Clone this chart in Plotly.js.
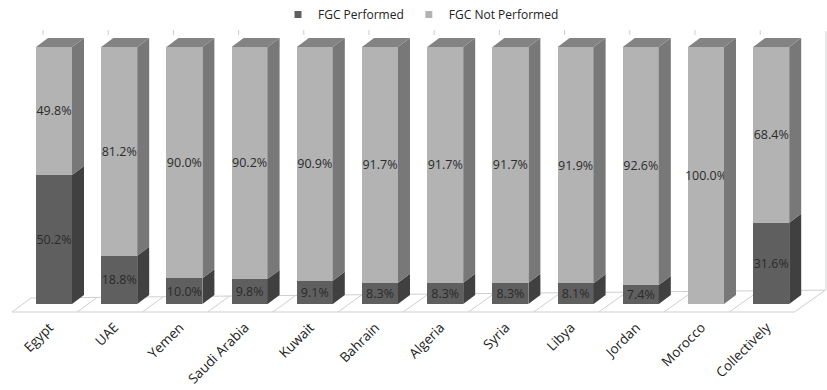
<!DOCTYPE html>
<html>
<head>
<meta charset="utf-8">
<script src="https://cdn.plot.ly/plotly-3.0.1.min.js"></script>
<style>
  html, body { margin: 0; padding: 0; background: #ffffff; }
  #chart { width: 827px; height: 390px; }
</style>
</head>
<body>
<div id="chart"></div>
<script>
// Share of women reporting female genital cutting, by country
const countries = ['Egypt', 'UAE', 'Yemen', 'Saudi Arabia', 'Kuwait', 'Bahrain',
                   'Algeria', 'Syria', 'Libya', 'Jordan', 'Morocco', 'Collectively'];
const performed    = [50.2, 18.8, 10.0, 9.8, 9.1, 8.3, 8.3, 8.3, 8.1, 7.4, 0.0, 31.6];
const notPerformed = [49.8, 81.2, 90.0, 90.2, 90.9, 91.7, 91.7, 91.7, 91.9, 92.6, 100.0, 68.4];
const seriesNames  = ['FGC Performed', 'FGC Not Performed'];

// ---- look ----
const FONT = 'Open Sans, Calibri, Liberation Sans, sans-serif';
const colFront = ['#5f5f5f', '#b3b3b3'];
const colSide  = ['#404040', '#787878'];
const colTop   = '#838383';
const floorLine = '#cfcfcf';

// ---- geometry of the pseudo-3D view (pixels -> axis units) ----
const W = 827, H = 390;
const M = { l: 0, r: 0, t: 25, b: 74 };
const PX_X = 65.2;          // pixels per category
const PX_Y = 2.58;          // pixels per percentage point
const X0_PX = 54;           // pixel of first category centre
const Y0_PX = 304;          // pixel of 0 %
const xRange = [-X0_PX / PX_X, (W - X0_PX) / PX_X];
const plotBottomPx = H - M.b, plotTopPx = M.t;
const yRange = [(Y0_PX - plotBottomPx) / PX_Y, (Y0_PX - plotTopPx) / PX_Y];
const px2x = p => (p - X0_PX) / PX_X;
const px2y = p => (Y0_PX - p) / PX_Y;

const BAR_W = 36 / PX_X;    // front face width
const DX = 12 / PX_X;       // depth offset, x
const DY = 9 / PX_Y;        // depth offset, y

const idx = countries.map((_, i) => i);
const fmt = v => (v > 0 ? v.toFixed(1) + '%' : '');

const barCommon = {
  type: 'bar',
  x: idx,
  width: BAR_W,
  showlegend: false,
  textposition: 'inside',
  insidetextanchor: 'middle',
  textangle: 0,
  constraintext: 'none',
  textfont: { family: FONT, size: 12.5, color: '#2b2b2b' },
  hoverinfo: 'skip'
};

const traces = [
  Object.assign({}, barCommon, {
    y: performed, name: seriesNames[0], text: performed.map(fmt),
    marker: { color: colFront[0], line: { width: 0 } }
  }),
  Object.assign({}, barCommon, {
    y: notPerformed, name: seriesNames[1], text: notPerformed.map(fmt),
    marker: { color: colFront[1], line: { width: 0 } }
  }),
  // legend swatches
  { type: 'scatter', mode: 'markers', x: [null], y: [null], name: seriesNames[0],
    marker: { symbol: 'square', size: 7, color: colFront[0] }, hoverinfo: 'skip' },
  { type: 'scatter', mode: 'markers', x: [null], y: [null], name: seriesNames[1],
    marker: { symbol: 'square', size: 7, color: colFront[1] }, hoverinfo: 'skip' }
];

const shapes = [];
const poly = pts => 'M' + pts.map(p => p[0] + ',' + p[1]).join('L') + 'Z';

// floor
const nCat = countries.length;
const floorFrontY = px2y(312);
const backLeft = { dx: 19, y: 298 }, backRight = { dx: 31, y: 290 };
const floorX = k => k - (X0_PX - 12) / PX_X;   // front boundary of slot k
const backAt = k => {
  const t = k / nCat;
  return {
    x: floorX(k) + (backLeft.dx + (backRight.dx - backLeft.dx) * t) / PX_X,
    y: px2y(backLeft.y + (backRight.y - backLeft.y) * t)
  };
};
const bl = backAt(0), br = backAt(nCat);
shapes.push({
  type: 'path', xref: 'x', yref: 'y', layer: 'below',
  path: poly([[floorX(0), floorFrontY], [floorX(nCat), floorFrontY], [br.x, br.y], [bl.x, bl.y]]),
  fillcolor: '#ffffff', line: { color: floorLine, width: 1 }
});
for (let k = 1; k < nCat; k++) {
  const b = backAt(k);
  shapes.push({
    type: 'line', xref: 'x', yref: 'y', layer: 'below',
    x0: floorX(k), y0: floorFrontY, x1: b.x, y1: b.y,
    line: { color: floorLine, width: 1 }
  });
}
// right wall edge
shapes.push({
  type: 'line', xref: 'x', yref: 'y', layer: 'below',
  x0: px2x(826), y0: br.y, x1: px2x(826), y1: px2y(30),
  line: { color: '#d4d4d4', width: 1 }
});
// small ticks along the top
idx.forEach(i => {
  const x = i - 11 / PX_X;
  shapes.push({
    type: 'line', xref: 'x', yref: 'y', layer: 'below',
    x0: x, y0: px2y(34), x1: x, y1: px2y(29),
    line: { color: '#cccccc', width: 1 }
  });
});

// side and top faces of every stacked segment
idx.forEach(i => {
  const xr = i + BAR_W / 2, xl = i - BAR_W / 2;
  const segs = [[0, performed[i], 0], [performed[i], performed[i] + notPerformed[i], 1]];
  segs.forEach(([y0, y1, s]) => {
    if (y1 - y0 <= 0) return;
    shapes.push({
      type: 'path', xref: 'x', yref: 'y', layer: 'above',
      path: poly([[xr, y0], [xr + DX, y0 + DY], [xr + DX, y1 + DY], [xr, y1]]),
      fillcolor: colSide[s], line: { width: 0 }
    });
  });
  const top = performed[i] + notPerformed[i];
  shapes.push({
    type: 'path', xref: 'x', yref: 'y', layer: 'above',
    path: poly([[xl, top], [xl + DX, top + DY], [xr + DX, top + DY], [xr, top]]),
    fillcolor: colTop, line: { width: 0 }
  });
});

const layout = {
  width: W, height: H,
  margin: M,
  paper_bgcolor: '#ffffff',
  plot_bgcolor: 'rgba(0,0,0,0)',
  barmode: 'stack',
  font: { family: FONT, size: 12, color: '#222222' },
  showlegend: true,
  legend: {
    orientation: 'h', x: 421 / W, xanchor: 'center',
    y: 1 + (M.t - 13) / (H - M.t - M.b), yanchor: 'middle',
    font: { family: FONT, size: 12, color: '#222222' },
    itemwidth: 30, traceorder: 'normal'
  },
  xaxis: {
    range: xRange, showgrid: false, zeroline: false, showline: false,
    tickmode: 'array', tickvals: idx.map(i => i - 0.07), ticktext: countries,
    tickangle: -45, ticks: '', ticklabelstandoff: 0,
    tickfont: { family: FONT, size: 13.5, color: '#222222' },
    fixedrange: true, automargin: false
  },
  yaxis: {
    range: yRange, showgrid: false, zeroline: false, showline: false,
    showticklabels: false, ticks: '', fixedrange: true, automargin: false
  },
  shapes: shapes
};

Plotly.newPlot('chart', traces, layout, { staticPlot: true, displayModeBar: false });
</script>
</body>
</html>
